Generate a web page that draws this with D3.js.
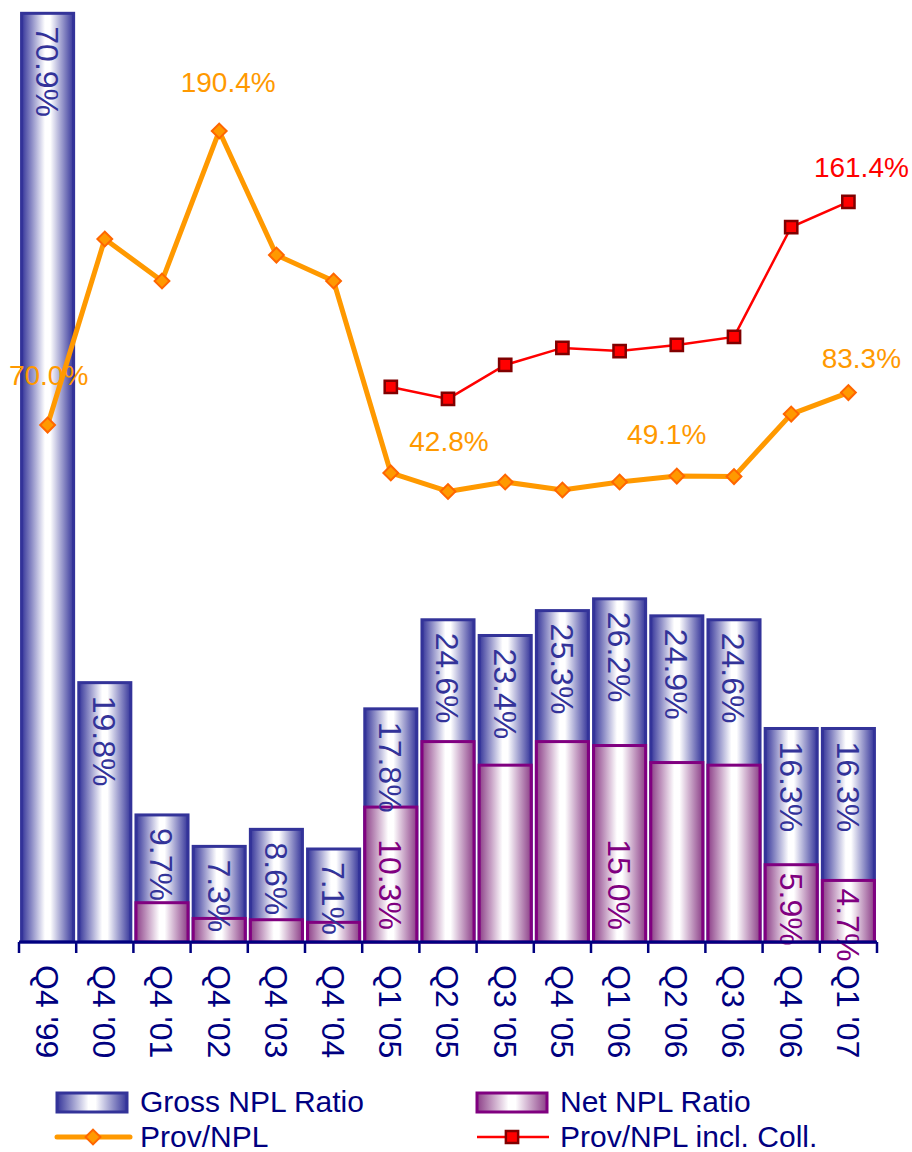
<!DOCTYPE html>
<html>
<head>
<meta charset="utf-8">
<script src="https://cdn.jsdelivr.net/npm/d3@7"></script>
<style>
  html, body { margin: 0; padding: 0; background: #ffffff; }
  svg { display: block; }
  text { font-family: "Liberation Sans", Arial, sans-serif; }
</style>
</head>
<body>
<svg id="chart" width="912" height="1152"></svg>
<script>
// Quarterly asset-quality figures
const quarters = ["Q4 '99", "Q4 '00", "Q4 '01", "Q4 '02", "Q4 '03", "Q4 '04", "Q1 '05", "Q2 '05",
                  "Q3 '05", "Q4 '05", "Q1 '06", "Q2 '06", "Q3 '06", "Q4 '06", "Q1 '07"];
const grossNpl = [70.9, 19.8, 9.7, 7.3, 8.6, 7.1, 17.8, 24.6, 23.4, 25.3, 26.2, 24.9, 24.6, 16.3, 16.3];
const netNpl   = [null, null, 3.0, 1.8, 1.7, 1.5, 10.3, 15.3, 13.5, 15.3, 15.0, 13.7, 13.5, 5.9, 4.7];
const provNpl  = [70.0, 146.2, 129.0, 190.4, 139.6, 129.0, 50.4, 42.8, 46.7, 43.4, 46.7, 49.1, 48.9, 74.5, 83.3];
const provNplColl = [null, null, null, null, null, null, 85.6, 80.7, 94.6, 101.6, 100.3, 102.8, 106.1, 151.1, 161.4];

// Which net-ratio bars carry a value label, and which line points do
const netLabelled = [6, 10, 13, 14];
const provLabelled = [0, 3, 7, 11, 14];
const collLabelled = [14];

const seriesNames = ["Gross NPL Ratio", "Net NPL Ratio", "Prov/NPL", "Prov/NPL incl. Coll."];

// Label nudges relative to their points (px)
const provLabelShift = {0: [1, -40], 3: [9, -39], 7: [1, -40], 11: [-10, -32], 14: [13, -25]};
const collLabelShift = {14: [13, -25]};

const fmt = v => v.toFixed(1) + "%";

const svg = d3.select("#chart");
const NAVY = "#000080", BLUE = "#333399", PURPLE = "#800080";
const ORANGE = "#FF9900", ORANGE_EDGE = "#FF6600", RED = "#FF0000", RED_EDGE = "#800000";

// Bar gradients: dark edges, white centre
const defs = svg.append("defs");
function barGradient(id, edge) {
  const g = defs.append("linearGradient").attr("id", id)
    .attr("x1", "0%").attr("x2", "100%").attr("y1", "0%").attr("y2", "0%");
  g.append("stop").attr("offset", "0%").attr("stop-color", edge);
  g.append("stop").attr("offset", "45%").attr("stop-color", "#ffffff");
  g.append("stop").attr("offset", "55%").attr("stop-color", "#ffffff");
  g.append("stop").attr("offset", "100%").attr("stop-color", edge);
}
barGradient("gradGross", "#35359a");
barGradient("gradNet", "#8c3f88");

// Scales
const x = d3.scaleBand().domain(quarters).range([19, 877]).paddingInner(0.09).paddingOuter(0.045);
const yBar = d3.scaleLinear().domain([0, 71]).range([942, 12]);
const yLine = d3.scaleLinear().domain([0, 200]).range([596, 107.6]);
const cx = q => x(q) + x.bandwidth() / 2;

// Gross NPL bars
const gBars = svg.append("g");
gBars.selectAll("rect.gross").data(quarters).join("rect")
  .attr("class", "gross")
  .attr("x", q => x(q)).attr("width", x.bandwidth())
  .attr("y", (q, i) => yBar(grossNpl[i]))
  .attr("height", (q, i) => yBar(0) - yBar(grossNpl[i]))
  .attr("fill", "url(#gradGross)").attr("stroke", BLUE).attr("stroke-width", 3);

// Net NPL bars drawn over the gross ones
const netIdx = quarters.map((q, i) => i).filter(i => netNpl[i] != null);
gBars.selectAll("rect.net").data(netIdx).join("rect")
  .attr("class", "net")
  .attr("x", i => x(quarters[i])).attr("width", x.bandwidth())
  .attr("y", i => yBar(netNpl[i]))
  .attr("height", i => yBar(0) - yBar(netNpl[i]))
  .attr("fill", "url(#gradNet)").attr("stroke", PURPLE).attr("stroke-width", 3);

// Rotated value labels on the bars
const gLab = svg.append("g").attr("font-size", 32);
gLab.selectAll("text.gl").data(quarters).join("text")
  .attr("class", "gl")
  .attr("transform", (q, i) => `translate(${cx(q)},${yBar(grossNpl[i]) + 13}) rotate(90)`)
  .attr("dy", "0.36em")
  .attr("fill", BLUE)
  .text((q, i) => fmt(grossNpl[i]));

gLab.selectAll("text.nl").data(netLabelled).join("text")
  .attr("class", "nl")
  .attr("dy", "0.36em")
  .attr("fill", PURPLE)
  .text(i => fmt(netNpl[i]))
  .each(function(i) {
    const t = d3.select(this);
    const len = this.getComputedTextLength();
    const top = yBar(netNpl[i]), base = yBar(0);
    if (base - top >= len + 20) {
      t.attr("text-anchor", "end")
       .attr("transform", `translate(${cx(quarters[i])},${base - 12}) rotate(90)`);
    } else {
      t.attr("text-anchor", "start")
       .attr("transform", `translate(${cx(quarters[i])},${top + 8}) rotate(90)`);
    }
  });

// Category axis along the base
const gAxis = svg.append("g");
gAxis.append("line").attr("x1", 19).attr("x2", 877).attr("y1", yBar(0)).attr("y2", yBar(0))
  .attr("stroke", NAVY).attr("stroke-width", 3);
const tickXs = quarters.map(q => x(q) - x.step() * x.paddingInner() / 2).concat([877]);
gAxis.selectAll("line.tick").data(tickXs).join("line")
  .attr("class", "tick")
  .attr("x1", d => d).attr("x2", d => d).attr("y1", yBar(0)).attr("y2", yBar(0) + 11)
  .attr("stroke", NAVY).attr("stroke-width", 2.5);
gAxis.selectAll("text").data(quarters).join("text")
  .attr("transform", q => `translate(${cx(q)},${yBar(0) + 23}) rotate(90)`)
  .attr("dy", "0.36em").attr("font-size", 32).attr("fill", NAVY)
  .text(q => q);

// Line value labels (under the lines)
const gLineLab = svg.append("g").attr("font-size", 28).attr("text-anchor", "middle");
gLineLab.selectAll("text.pl").data(provLabelled).join("text")
  .attr("class", "pl")
  .attr("x", i => cx(quarters[i]) + provLabelShift[i][0])
  .attr("y", i => yLine(provNpl[i]) + provLabelShift[i][1])
  .attr("fill", ORANGE).text(i => fmt(provNpl[i]));
gLineLab.selectAll("text.cl").data(collLabelled).join("text")
  .attr("class", "cl")
  .attr("x", i => cx(quarters[i]) + collLabelShift[i][0])
  .attr("y", i => yLine(provNplColl[i]) + collLabelShift[i][1])
  .attr("fill", RED).text(i => fmt(provNplColl[i]));

// Prov/NPL line with diamonds
const lineGen = d3.line()
  .defined(d => d.v != null)
  .x(d => cx(d.q)).y(d => yLine(d.v));
const provPts = quarters.map((q, i) => ({q, v: provNpl[i]}));
const collPts = quarters.map((q, i) => ({q, v: provNplColl[i]}));

svg.append("path").datum(provPts).attr("d", lineGen)
  .attr("fill", "none").attr("stroke", ORANGE).attr("stroke-width", 5).attr("stroke-linejoin", "round");
const diamond = d3.symbol().type(d3.symbolSquare).size(110);
svg.append("g").selectAll("path").data(provPts).join("path")
  .attr("d", diamond())
  .attr("transform", d => `translate(${cx(d.q)},${yLine(d.v)}) rotate(45)`)
  .attr("fill", ORANGE).attr("stroke", ORANGE_EDGE).attr("stroke-width", 2);

// Prov/NPL incl. collateral line with squares
svg.append("path").datum(collPts.filter(d => d.v != null)).attr("d", lineGen)
  .attr("fill", "none").attr("stroke", RED).attr("stroke-width", 2.5);
const square = d3.symbol().type(d3.symbolSquare).size(150);
svg.append("g").selectAll("path").data(collPts.filter(d => d.v != null)).join("path")
  .attr("d", square())
  .attr("transform", d => `translate(${cx(d.q)},${yLine(d.v)})`)
  .attr("fill", RED).attr("stroke", RED_EDGE).attr("stroke-width", 2.5);

// Legend
const leg = svg.append("g").attr("font-size", 30).attr("fill", NAVY);
const legCols = [57, 477];
const legRows = [1102, 1137];
// bar swatches
[["gradGross", BLUE], ["gradNet", PURPLE]].forEach(([grad, stroke], k) => {
  leg.append("rect").attr("x", legCols[k]).attr("y", legRows[0] - 9).attr("width", 70).attr("height", 19)
    .attr("fill", `url(#${grad})`).attr("stroke", stroke).attr("stroke-width", 3);
});
// line swatches
leg.append("line").attr("x1", legCols[0]).attr("x2", legCols[0] + 73).attr("y1", legRows[1]).attr("y2", legRows[1])
  .attr("stroke", ORANGE).attr("stroke-width", 5).attr("stroke-linecap", "round");
leg.append("path").attr("d", diamond())
  .attr("transform", `translate(${legCols[0] + 36},${legRows[1]}) rotate(45)`)
  .attr("fill", ORANGE).attr("stroke", ORANGE_EDGE).attr("stroke-width", 2);
leg.append("line").attr("x1", legCols[1]).attr("x2", legCols[1] + 72).attr("y1", legRows[1]).attr("y2", legRows[1])
  .attr("stroke", RED).attr("stroke-width", 2.5);
leg.append("path").attr("d", square())
  .attr("transform", `translate(${legCols[1] + 35},${legRows[1]})`)
  .attr("fill", RED).attr("stroke", RED_EDGE).attr("stroke-width", 2.5);
// names
const legPos = [[0, 0], [1, 0], [0, 1], [1, 1]];
leg.selectAll("text").data(seriesNames).join("text")
  .attr("x", (d, i) => legCols[legPos[i][0]] + 83)
  .attr("y", (d, i) => legRows[legPos[i][1]] + 10)
  .text(d => d);
</script>
</body>
</html>
